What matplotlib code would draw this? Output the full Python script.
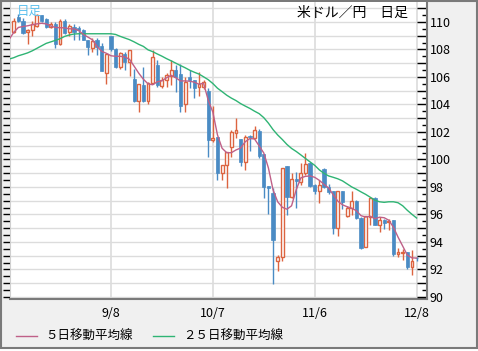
import numpy as np
import matplotlib
matplotlib.use("Agg")
import matplotlib.pyplot as plt
from matplotlib.ticker import MultipleLocator, FuncFormatter
from matplotlib.patches import Rectangle
from matplotlib.lines import Line2D

plt.rcParams['font.family'] = ['Noto Sans CJK JP', 'DejaVu Sans']

# daily candles (index 0..87)
opens = [109.26, 110.35, 110.06, 109.26, 109.44, 109.7, 110.47, 110.23, 109.62, 109.82,
         108.39, 110.06, 109.26, 109.6, 109.55, 109.44, 108.7, 108.13, 108.7, 108.25,
         106.29, 108.97, 108.06, 106.72, 107.7, 107.09, 105.83, 104.26, 105.45, 104.26,
         105.54, 106.85, 105.33, 105.81, 106.05, 106.49, 106.2, 104.0, 106.0, 105.8,
         105.25, 105.3, 105.0, 101.45, 101.6, 99.04, 99.58, 100.88, 101.94, 101.5,
         99.84, 101.7, 101.54, 102.1, 100.4, 98.1, 97.55, 92.6, 92.88, 99.55,
         97.3, 98.56, 98.39, 99.04, 99.72, 98.15, 97.67, 99.3, 98.0, 97.67,
         95.0, 97.67, 95.9, 96.46, 97.0, 95.74, 93.64, 95.8, 97.2, 95.26,
         95.57, 95.43, 95.57, 93.15, 93.2, 93.3, 92.19, 92.85]
highs = [110.3, 110.6, 110.3, 109.5, 110.06, 110.6, 110.5, 110.3, 110.0, 110.0,
         110.2, 110.2, 109.85, 109.87, 109.73, 109.5, 108.7, 108.8, 108.85, 108.5,
         107.64, 109.0, 108.1, 107.8, 107.81, 107.93, 106.56, 105.52, 106.7, 105.6,
         107.93, 107.2, 106.0, 106.29, 107.2, 106.85, 106.97, 106.0, 106.49, 105.8,
         106.36, 105.8, 105.2, 103.9, 101.6, 99.6, 100.54, 102.14, 103.0, 101.5,
         101.78, 101.8, 102.4, 102.2, 100.4, 98.1, 97.9, 93.07, 99.36, 99.55,
         99.0, 99.1, 99.72, 100.5, 99.8, 98.2, 98.5, 99.4, 98.2, 97.7,
         97.67, 97.7, 96.6, 97.67, 97.06, 95.8, 95.9, 97.2, 97.3, 95.8,
         95.7, 95.65, 95.6, 93.56, 93.5, 93.3, 93.38, 92.9]
lows = [109.2, 110.0, 109.1, 108.4, 109.0, 109.6, 110.0, 109.55, 109.55, 108.1,
        108.3, 109.1, 108.95, 108.7, 108.7, 108.7, 107.57, 107.8, 107.6, 106.4,
        105.52, 107.9, 106.65, 106.6, 106.49, 106.05, 104.2, 103.46, 104.2, 104.0,
        105.5, 105.3, 105.16, 105.27, 105.4, 104.9, 103.46, 103.46, 105.16, 104.48,
        104.63, 105.1, 100.2, 101.3, 98.5, 98.5, 97.9, 100.2, 101.54, 99.5,
        99.24, 100.6, 101.5, 100.1, 97.2, 96.0, 90.97, 91.88, 92.6, 95.98,
        97.2, 96.45, 98.15, 98.88, 98.0, 97.5, 96.8, 97.9, 97.5, 94.6,
        94.4, 96.4, 95.85, 95.97, 95.7, 93.5, 93.6, 95.2, 95.2, 94.7,
        94.95, 94.9, 93.0, 92.9, 92.7, 92.0, 91.6, 92.6]
closes = [110.06, 110.06, 109.2, 109.44, 109.82, 110.47, 110.06, 109.62, 109.82, 108.39,
          110.06, 109.2, 109.67, 109.26, 109.38, 108.7, 108.17, 108.59, 108.17, 106.43,
          107.64, 108.06, 106.72, 107.74, 107.09, 107.93, 104.26, 105.52, 104.26, 105.54,
          107.43, 105.4, 105.76, 106.12, 106.49, 105.96, 103.9, 105.64, 105.76, 105.23,
          105.47, 105.6, 101.43, 101.55, 99.04, 99.58, 100.54, 102.0, 102.14, 99.84,
          101.6, 101.6, 102.14, 100.28, 97.96, 97.9, 94.17, 92.9, 99.36, 97.3,
          98.56, 98.46, 99.04, 99.67, 98.08, 97.67, 98.15, 97.98, 97.62, 95.0,
          97.67, 96.87, 96.5, 96.99, 95.74, 93.56, 95.86, 97.2, 95.26, 95.57,
          95.38, 95.55, 93.15, 93.25, 93.3, 92.2, 92.64, 92.8]

# moving averages, index -1..87
ma5 = [108.73, 109.24, 109.6, 109.67, 109.72, 109.8, 109.86, 109.9, 109.86, 109.7,
       109.6, 109.58, 109.57, 109.5, 109.5, 109.38, 109.1, 108.9, 108.7, 108.22,
       107.86, 107.72, 107.54, 107.5, 107.5, 107.46, 107.28, 106.78, 106.27, 105.83,
       105.5, 105.43, 105.65, 105.72, 105.94, 106.12, 105.94, 105.71, 105.71, 105.69,
       105.62, 105.47, 105.54, 104.31, 103.44, 101.78, 100.81, 100.49, 100.49, 100.69,
       100.83, 101.29, 101.52, 101.49, 100.98, 100.47, 99.38, 97.79, 96.92, 96.52,
       96.38, 96.63, 97.79, 98.66, 98.77, 98.8, 98.7, 98.48, 98.19, 97.93,
       97.43, 96.96, 96.7, 96.56, 96.45, 96.27, 95.91, 95.81, 95.87, 95.69,
       95.8, 95.76, 95.58, 95.07, 94.35, 93.7, 93.04, 92.84, 92.83]
ma25 = [107.3, 107.4, 107.54, 107.64, 107.75, 107.9, 108.08, 108.26, 108.44, 108.55,
        108.66, 108.78, 108.95, 109.05, 109.12, 109.14, 109.14, 109.14, 109.14, 109.14,
        109.14, 109.14, 109.14, 109.09, 108.95, 108.83, 108.71, 108.55, 108.37, 108.22,
        107.97, 107.84, 107.67, 107.51, 107.33, 107.17, 107.0, 106.83, 106.67, 106.49,
        106.34, 106.21, 106.01, 105.8, 105.52, 105.18, 104.93, 104.67, 104.46, 104.28,
        104.06, 103.88, 103.71, 103.51, 103.33, 103.04, 102.64, 102.17, 101.78, 101.45,
        101.09, 100.8, 100.58, 100.33, 100.07, 99.82, 99.57, 99.24, 98.99, 98.8,
        98.7, 98.59, 98.44, 98.22, 98.0, 97.83, 97.64, 97.46, 97.25, 97.03,
        96.92, 96.88, 96.92, 96.92, 96.85, 96.63, 96.3, 96.01, 95.74]

tick_pos = [21, 43, 65, 87]
tick_labels = ['9/8', '10/7', '11/6', '12/8']

RED = '#dc6440'
BLUE = '#4a8bc4'
PINK = '#bf6088'
GREEN = '#2fb474'
GRID = '#dcdcdc'

W, H = 478, 351
fig = plt.figure(figsize=(W / 100, H / 100), dpi=100, facecolor='white')
fig.patches.append(Rectangle((0.5 / W, 3 / H), 476 / W, 347.5 / H, transform=fig.transFigure,
                             facecolor='#f0f0f0', edgecolor='#7a7a7a', lw=1.5, zorder=-10))

ax = fig.add_axes([10 / W, 52 / H, 417 / W, 297 / H])
ax.set_facecolor('white')

o = np.array(opens); h = np.array(highs); l = np.array(lows); c = np.array(closes)
x = np.arange(len(o))
up = c >= o
bot = np.minimum(o, c)
ht = np.maximum(np.abs(c - o), 0.06)

ax.vlines(x[up], l[up], h[up], color=RED, lw=1.0, zorder=2)
ax.vlines(x[~up], l[~up], h[~up], color=BLUE, lw=1.0, zorder=2)
ax.bar(x[up], ht[up], bottom=bot[up], width=0.62, facecolor='white', edgecolor=RED, lw=1.0, zorder=3)
ax.bar(x[~up], ht[~up], bottom=bot[~up], width=0.7, color=BLUE, edgecolor=BLUE, lw=0.5, zorder=3)

xm = np.arange(-1, len(ma5) - 1)
ax.plot(xm, ma25, color=GREEN, lw=1.0, zorder=4)
ax.plot(xm, ma5, color=PINK, lw=1.0, zorder=4)

ax.set_xlim(-0.81, 89.25)
ax.set_ylim(89.85, 111.45)
ax.set_axisbelow(True)
ax.yaxis.set_major_locator(MultipleLocator(1))
ax.yaxis.set_minor_locator(MultipleLocator(0.5))
ax.grid(axis='y', which='major', color=GRID, lw=1.0)
ax.set_xticks(tick_pos)
ax.set_xticklabels(tick_labels)
ax.grid(axis='x', color=GRID, lw=1.2)
ax.tick_params(axis='x', length=0, labelsize=9, pad=6)
ax.tick_params(axis='y', which='both', left=True, right=False, labelleft=False,
               direction='out', length=5, width=1, color='black')
ax.spines['top'].set_visible(False)
ax.spines['left'].set_color('#d0d0d0')
ax.spines['right'].set_visible(False)
ax.spines['bottom'].set_color('#7a7a7a')
ax.spines['bottom'].set_linewidth(1.5)

ax2 = ax.twinx()
ax2.set_ylim(ax.get_ylim())
ax2.yaxis.set_major_locator(MultipleLocator(1))
ax2.yaxis.set_minor_locator(MultipleLocator(0.5))
ax2.yaxis.set_major_formatter(FuncFormatter(lambda v, p: f'{v:.0f}' if round(v) % 2 == 0 else ''))
ax2.tick_params(axis='y', which='major', direction='in', length=7, width=1, labelsize=9, pad=2, color='black')
ax2.tick_params(axis='y', which='minor', direction='in', length=3.5, width=1, color='black')
for s in ['top', 'left', 'bottom']:
    ax2.spines[s].set_visible(False)
ax2.spines['right'].set_color('#7a7a7a')
ax2.spines['right'].set_linewidth(1.5)

ax.text(0.955, 0.962, '米ドル／円　日足', transform=ax.transAxes, ha='right', va='center',
        fontsize=10, color='black')
ax.text(0.016, 0.968, '日足', transform=ax.transAxes, ha='left', va='center',
        fontsize=9, color='#5cc0ee')

ly = (H - 336) / H
fig.add_artist(Line2D([16 / W, 37 / W], [ly, ly], color=PINK, lw=1.0, transform=fig.transFigure))
fig.text(45 / W, ly, '５日移動平均線', fontsize=9, va='center', ha='left')
fig.add_artist(Line2D([153 / W, 174 / W], [ly, ly], color=GREEN, lw=1.0, transform=fig.transFigure))
fig.text(183 / W, ly, '２５日移動平均線', fontsize=9, va='center', ha='left')

fig.savefig('out.png', dpi=100, facecolor=fig.get_facecolor())
